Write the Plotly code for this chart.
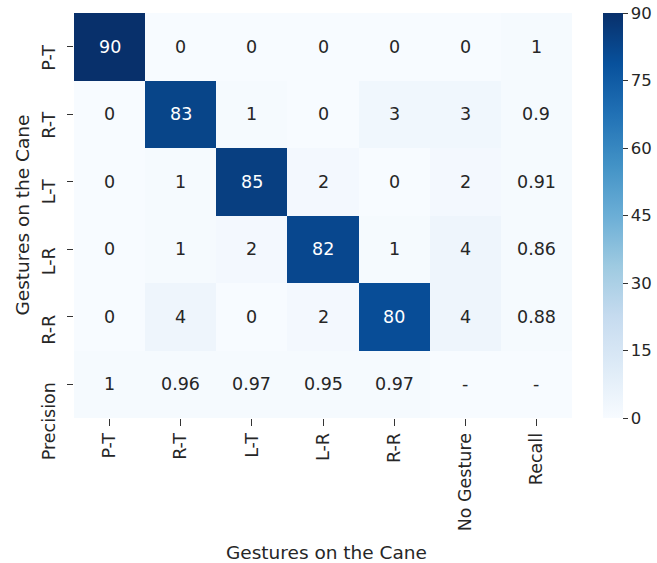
import plotly.graph_objects as go

row_labels = ["P-T", "R-T", "L-T", "L-R", "R-R", "Precision"]
col_labels = ["P-T", "R-T", "L-T", "L-R", "R-R", "No Gesture", "Recall"]

row_pt = [90, 0, 0, 0, 0, 0, 1]
row_rt = [0, 83, 1, 0, 3, 3, 0.9]
row_lt = [0, 1, 85, 2, 0, 2, 0.91]
row_lr = [0, 1, 2, 82, 1, 4, 0.86]
row_rr = [0, 4, 0, 2, 80, 4, 0.88]
row_prec = [1, 0.96, 0.97, 0.95, 0.97, None, None]

colorbar_ticks = [0, 15, 30, 45, 60, 75, 90]
axis_title = "Gestures on the Cane"

rows = [row_pt, row_rt, row_lt, row_lr, row_rr, row_prec]
z = [[(v if v is not None else 0) for v in r] for r in rows]
text = [[("-" if v is None else f"{v:g}") for v in r] for r in rows]

blues = [
    [0.0, "#f7fbff"], [0.125, "#deebf7"], [0.25, "#c6dbef"], [0.375, "#9ecae1"],
    [0.5, "#6baed6"], [0.625, "#4292c6"], [0.75, "#2171b5"], [0.875, "#08519c"],
    [1.0, "#08306b"],
]

FONT = "DejaVu Sans"
TXT = "#262626"
FS = 17.5

fig = go.Figure(go.Heatmap(
    z=z, x=col_labels, y=row_labels,
    colorscale=blues, zmin=0, zmax=90,
    showscale=True,
    colorbar=dict(
        x=1.062, xanchor="left", xpad=0, y=0.5, yanchor="middle", ypad=0,
        len=1.0, lenmode="fraction", thickness=20,
        tickvals=colorbar_ticks,
        ticks="outside", ticklen=5, tickcolor="#333333",
        tickfont=dict(family=FONT, size=16.5, color=TXT),
        outlinewidth=0,
    ),
    hoverinfo="skip",
))

# cell values
for i, r in enumerate(rows):
    for j, v in enumerate(r):
        val = v if v is not None else 0
        fig.add_annotation(
            x=col_labels[j], y=row_labels[i], xref="x", yref="y",
            text=text[i][j], showarrow=False,
            font=dict(family=FONT, size=FS,
                      color="#ffffff" if val > 45 else TXT),
        )

# y tick labels (top-aligned at the tick, like the reference)
for lab in row_labels:
    fig.add_annotation(
        x=0, xref="paper", y=lab, yref="y",
        text=lab, showarrow=False, textangle=-90,
        xanchor="right", yanchor="top", xshift=-13, yshift=4,
        font=dict(family=FONT, size=FS, color=TXT),
    )

# axis titles
fig.add_annotation(
    x=0.508, xref="paper", y=0, yref="paper",
    text=axis_title, showarrow=False,
    xanchor="center", yanchor="middle", yshift=-134,
    font=dict(family=FONT, size=18.5, color=TXT),
)
fig.add_annotation(
    x=0, xref="paper", y=0.5, yref="paper",
    text=axis_title, showarrow=False, textangle=-90,
    xanchor="center", yanchor="middle", xshift=-52,
    font=dict(family=FONT, size=18.5, color=TXT),
)

fig.update_layout(
    width=657, height=563,
    margin=dict(l=74, r=85, t=13, b=145, autoexpand=False),
    paper_bgcolor="white", plot_bgcolor="white",
    font=dict(family=FONT, size=FS, color=TXT),
    xaxis=dict(
        tickangle=-90, ticks="outside", ticklen=7, tickcolor="#333333",
        showgrid=False, zeroline=False, showline=False,
        tickfont=dict(family=FONT, size=FS, color=TXT),
    ),
    yaxis=dict(
        ticks="outside", ticklen=6, tickcolor="#333333",
        autorange="reversed", showticklabels=False,
        showgrid=False, zeroline=False, showline=False,
    ),
)

fig.write_html("out.html")
